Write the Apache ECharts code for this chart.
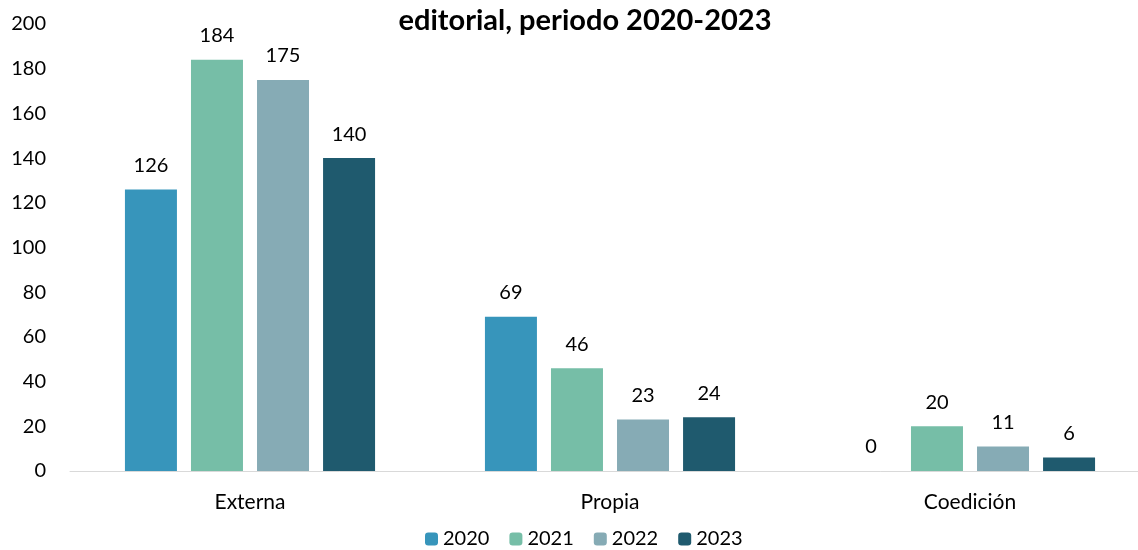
<!DOCTYPE html>
<html><head><meta charset="utf-8">
<script src="https://cdn.jsdelivr.net/npm/echarts@6/dist/echarts.min.js"></script>
<style>html,body{margin:0;padding:0;background:#fff;overflow:hidden}#c{width:1150px;height:550px}</style>
</head><body><div id="c"></div>
<script>
const categories = ['Externa', 'Propia', 'Coedición'];
const seriesNames = ['2020', '2021', '2022', '2023'];
const v2020 = [126, 69, 0];
const v2021 = [184, 46, 20];
const v2022 = [175, 23, 11];
const v2023 = [140, 24, 6];
const yTicks = [0, 20, 40, 60, 80, 100, 120, 140, 160, 180, 200];
const colors = ['#3795BB', '#76BEA7', '#86ABB5', '#1F5A6E'];
const values = [v2020, v2021, v2022, v2023];
const font = 'Lato, "Open Sans", sans-serif';

const chart = echarts.init(document.getElementById('c'));
chart.setOption({
  animation: false,
  title: {
    text: 'editorial, periodo 2020-2023',
    left: 580, top: 1, textAlign: 'center',
    textStyle: { fontFamily: font, fontSize: 29, fontWeight: 'bold', color: '#000' }
  },
  legend: {
    top: 524, left: 420,
    itemWidth: 13, itemHeight: 13, itemGap: 20,
    textStyle: { fontFamily: font, fontSize: 20, color: '#000' },
    data: seriesNames
  },
  grid: { left: 70, right: 0, top: 24, bottom: 79, containLabel: false },
  xAxis: {
    type: 'category', data: categories,
    axisLine: { lineStyle: { color: '#d9d9d9', width: 1 } },
    axisTick: { show: false },
    axisLabel: { fontFamily: font, fontSize: 21, color: '#000', margin: 21 }
  },
  yAxis: {
    type: 'value', min: yTicks[0], max: yTicks[yTicks.length - 1], interval: 20,
    axisLine: { show: false }, axisTick: { show: false }, splitLine: { show: false },
    axisLabel: { fontFamily: font, fontSize: 20, color: '#000', margin: 24 }
  },
  series: seriesNames.map((n, i) => ({
    name: n, type: 'bar', data: values[i],
    barWidth: 52, barGap: '27%',
    itemStyle: { color: colors[i] },
    label: { show: true, position: 'top', distance: 14, fontFamily: font, fontSize: 20, color: '#000' }
  }))
});
</script></body></html>
